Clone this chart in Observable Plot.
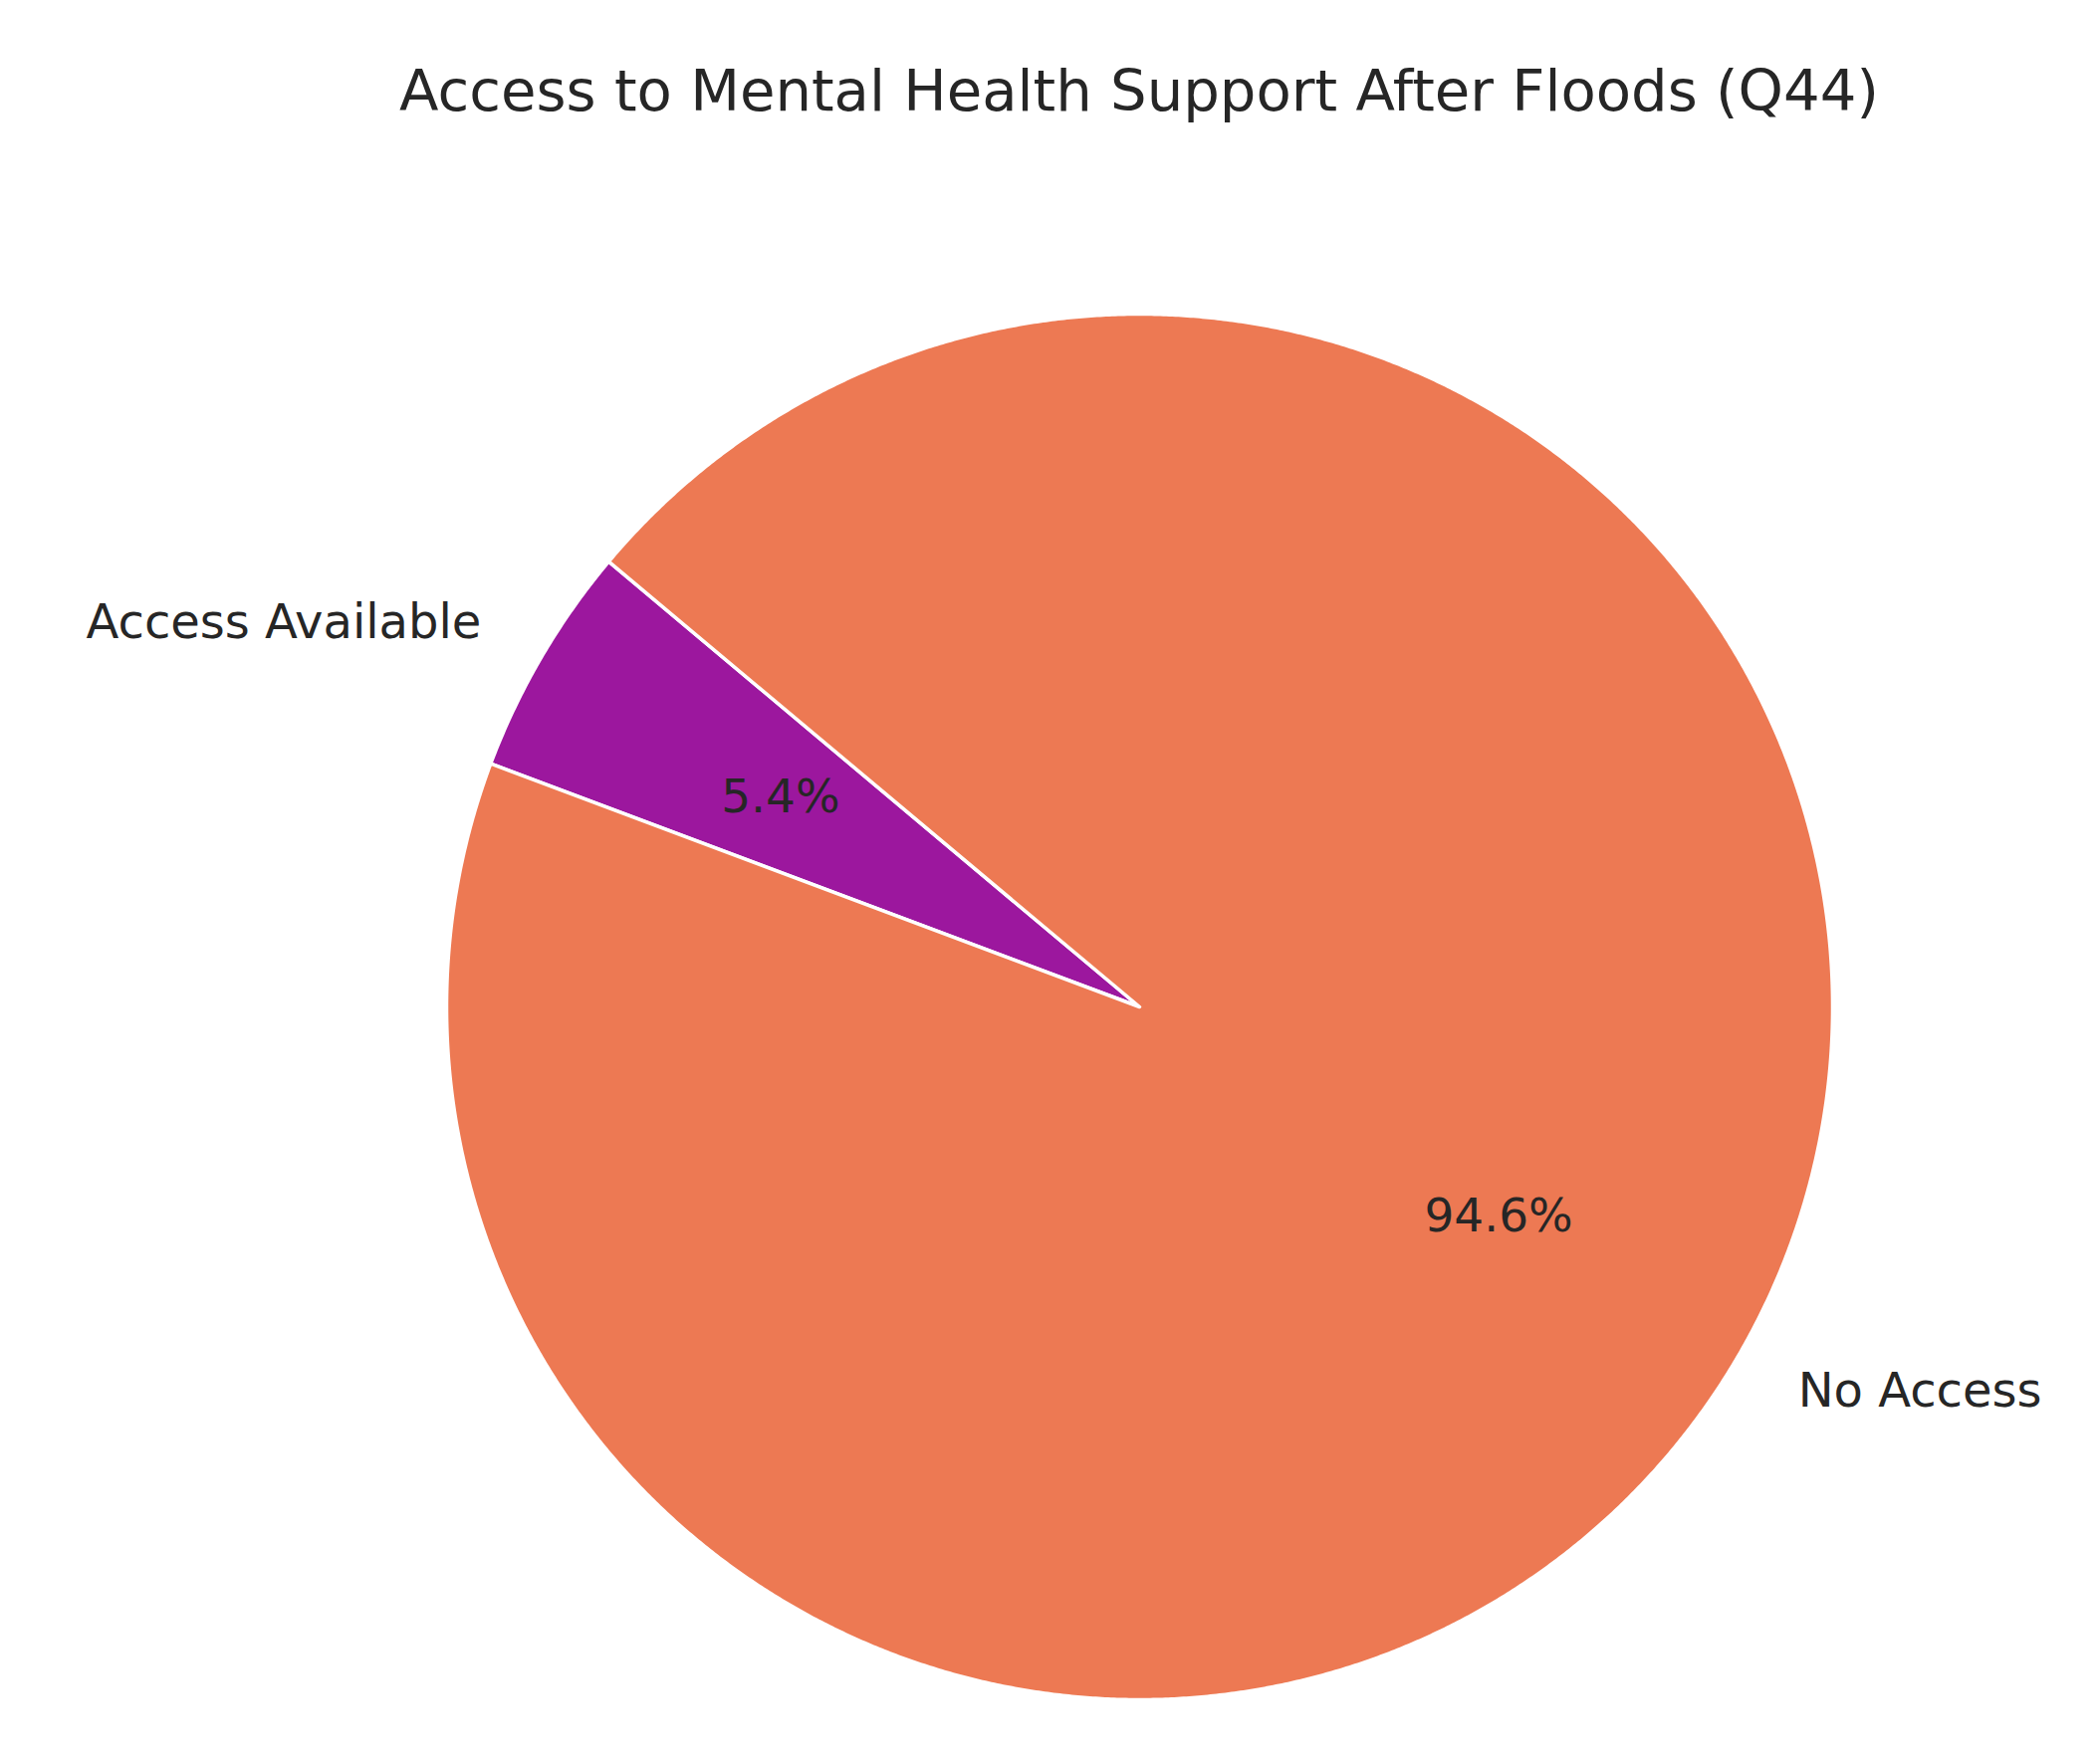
<!DOCTYPE html>
<html>
<head>
<meta charset="utf-8">
<script src="https://cdn.jsdelivr.net/npm/d3@7"></script>
<script src="https://cdn.jsdelivr.net/npm/@observablehq/plot@0.6"></script>
<style>
  html, body { margin: 0; padding: 0; background: #fff; }
  #title { position: relative; width: 2109px; height: 180px; font-family: "DejaVu Sans", sans-serif; color: #262626; }
  #title span { position: absolute; left: 1144px; top: 91px; transform: translate(-50%, -50%); font-size: 57.7px; white-space: nowrap; }
  #chart svg { display: block; }
</style>
</head>
<body>
<div id="title"><span>Access to Mental Health Support After Floods (Q44)</span></div>
<div id="chart"></div>
<script>
const categories = ["Access Available", "No Access"];
const shares = [5.4, 94.6];
const colors = ["#9c179e", "#ed7953"];
const startAngleDeg = 140;

const total = d3.sum(shares);
const rad = Math.PI / 180;

// slice angles (counter-clockwise from startAngle, matplotlib style)
let acc = startAngleDeg;
const slices = categories.map((c, i) => {
  const a0 = acc;
  const a1 = acc + 360 * shares[i] / total;
  acc = a1;
  return { label: c, share: shares[i], a0, a1, mid: (a0 + a1) / 2 };
});

// polygon rows for each wedge
const wedgeRows = [];
for (const s of slices) {
  wedgeRows.push({ label: s.label, x: 0, y: 0 });
  const n = Math.max(2, Math.ceil((s.a1 - s.a0) / 0.25));
  for (let k = 0; k <= n; k++) {
    const a = (s.a0 + (s.a1 - s.a0) * k / n) * rad;
    wedgeRows.push({ label: s.label, x: Math.cos(a), y: Math.sin(a) });
  }
}

const labelRows = slices.map(s => ({
  label: s.label,
  x: 1.1 * Math.cos(s.mid * rad),
  y: 1.1 * Math.sin(s.mid * rad),
  anchor: Math.cos(s.mid * rad) < 0 ? "end" : "start"
}));
const pctRows = slices.map(s => ({
  text: (100 * s.share / total).toFixed(1) + "%",
  x: 0.6 * Math.cos(s.mid * rad),
  y: 0.6 * Math.sin(s.mid * rad)
}));

const cx = 1144, cy = 831, R = 696;
const plot = Plot.plot({
  width: 2109,
  height: 1590,
  margin: 0,
  x: { domain: [-1, 1], range: [cx - R, cx + R], axis: null },
  y: { domain: [-1, 1], range: [cy + R, cy - R], axis: null },
  color: { domain: categories, range: colors },
  style: { fontFamily: "DejaVu Sans, sans-serif", background: "#fff" },
  marks: [
    Plot.line(wedgeRows, { x: "x", y: "y", z: "label", fill: "label", stroke: "white", strokeWidth: 3.5, curve: "linear-closed", strokeLinejoin: "round" }),
    Plot.text(labelRows.filter(d => d.anchor === "end"), { x: "x", y: "y", text: "label", textAnchor: "end", fontSize: 48, fill: "#262626" }),
    Plot.text(labelRows.filter(d => d.anchor === "start"), { x: "x", y: "y", text: "label", textAnchor: "start", fontSize: 48, fill: "#262626" }),
    Plot.text(pctRows, { x: "x", y: "y", text: "text", fontSize: 47, fill: "#262626" })
  ]
});
document.getElementById("chart").appendChild(plot);
</script>
</body>
</html>
